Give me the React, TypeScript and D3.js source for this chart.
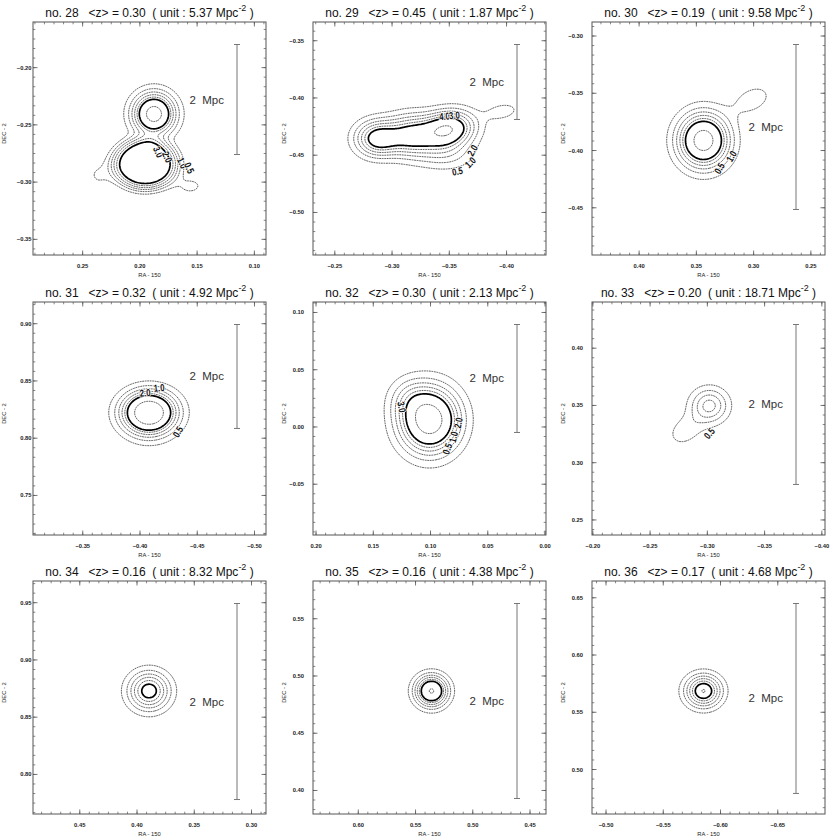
import React from 'react';
import * as d3 from 'd3';

const W = 830;
const H = 838;

// ---------- data ----------
const PANEL_NO = [28, 29, 30, 31, 32, 33, 34, 35, 36];
const MEAN_Z = ['0.30', '0.45', '0.19', '0.32', '0.30', '0.20', '0.16', '0.16', '0.17'];
const UNIT = ['5.37', '1.87', '9.58', '4.92', '2.13', '18.71', '8.32', '4.38', '4.68'];
const CENTER_RA = [0.1916, -0.3327, 0.3394, -0.4083, 0.1009, -0.301, 0.3891, 0.5378, -0.5895];
const CENTER_DEC = [-0.2619, -0.4354, -0.3895, 0.8172, 0.0074, 0.3386, 0.8672, 0.4812, 0.5629];
const HALF_SPAN = 0.10175;

const RA_TICKS = [
  [0.25, 0.2, 0.15, 0.1],
  [-0.25, -0.3, -0.35, -0.4],
  [0.4, 0.35, 0.3, 0.25],
  [-0.35, -0.4, -0.45, -0.5],
  [0.2, 0.15, 0.1, 0.05, 0.0],
  [-0.2, -0.25, -0.3, -0.35, -0.4],
  [0.45, 0.4, 0.35, 0.3],
  [0.6, 0.55, 0.5, 0.45],
  [-0.5, -0.55, -0.6, -0.65],
];
const DEC_TICKS = [
  [-0.2, -0.25, -0.3, -0.35],
  [-0.35, -0.4, -0.45, -0.5],
  [-0.3, -0.35, -0.4, -0.45],
  [0.9, 0.85, 0.8, 0.75],
  [0.1, 0.05, 0.0, -0.05],
  [0.4, 0.35, 0.3, 0.25],
  [0.95, 0.9, 0.85, 0.8],
  [0.55, 0.5, 0.45, 0.4],
  [0.65, 0.6, 0.55, 0.5],
];
const MINOR_PER_MAJOR = 6;

// 2 Mpc scale bar length in degrees
const SCALE_BAR_DEG = [0.0961, 0.0655, 0.1441, 0.0908, 0.0943, 0.1397, 0.1712, 0.1703, 0.1659];

// contour levels (surface density in the panel unit)
const THIN_LEVELS = [0.5, 1.0, 1.5, 2.0, 2.5, 4.5];
const THICK_LEVELS = [3.0];

// density components: ra, dec (deg), amp, sx, sy (deg), rot (deg), p (profile flatness)
const BLOBS_28 = [
  { ra: 0.1877, dec: -0.2405, amp: 5.2, sx: 0.0122, sy: 0.0122, rot: 0, p: 1 },
  { ra: 0.1955, dec: -0.2842, amp: 4.0, sx: 0.0247, sy: 0.0192, rot: 0, p: 2.26 },
  { ra: 0.2357, dec: -0.2938, amp: 0.55, sx: 0.0096, sy: 0.0096, rot: 0, p: 1 },
  { ra: 0.1562, dec: -0.3034, amp: 0.6, sx: 0.0113, sy: 0.007, rot: 0, p: 1 },
];
const BLOBS_29 = [
  { ra: -0.2873, dec: -0.4354, amp: 3.5, sx: 0.0131, sy: 0.0105, rot: 0, p: 1 },
  { ra: -0.3161, dec: -0.4328, amp: 3.0, sx: 0.014, sy: 0.0122, rot: 0, p: 1 },
  { ra: -0.3484, dec: -0.4275, amp: 4.5, sx: 0.0157, sy: 0.0105, rot: 10, p: 1 },
  { ra: -0.3467, dec: -0.4494, amp: 1.1, sx: 0.0175, sy: 0.0096, rot: 0, p: 1 },
  { ra: -0.3964, dec: -0.4118, amp: 0.8, sx: 0.0105, sy: 0.0052, rot: 10, p: 1 },
];
const BLOBS_30 = [
  { ra: 0.3438, dec: -0.3912, amp: 5.26, sx: 0.0148, sy: 0.0157, rot: 0, p: 1 },
  { ra: 0.301, dec: -0.3555, amp: 0.75, sx: 0.014, sy: 0.009, rot: 25, p: 1 },
];
const BLOBS_31 = [
  { ra: -0.4079, dec: 0.8229, amp: 5.9, sx: 0.0157, sy: 0.0122, rot: 0, p: 1 },
  { ra: -0.4075, dec: 0.8107, amp: 0.5, sx: 0.015, sy: 0.012, rot: 0, p: 1 },
];
const BLOBS_32 = [
  { ra: 0.1009, dec: 0.0061, amp: 5.44, sx: 0.0175, sy: 0.0192, rot: 0, p: 1 },
  { ra: 0.1192, dec: 0.0253, amp: 0.8, sx: 0.0122, sy: 0.0122, rot: 0, p: 1 },
];
const BLOBS_33 = [
  { ra: -0.3018, dec: 0.3499, amp: 2.2, sx: 0.0113, sy: 0.0105, rot: 0, p: 1 },
  { ra: -0.2808, dec: 0.3281, amp: 0.8, sx: 0.0122, sy: 0.0087, rot: 35, p: 1 },
];
const BLOBS_34 = [{ ra: 0.3895, dec: 0.8729, amp: 3.43, sx: 0.0123, sy: 0.0115, rot: 0, p: 1 }];
const BLOBS_35 = [{ ra: 0.5361, dec: 0.4869, amp: 4.6, sx: 0.0096, sy: 0.0092, rot: 0, p: 1 }];
const BLOBS_36 = [
  { ra: -0.5851, dec: 0.5686, amp: 3.75, sx: 0.0107, sy: 0.0096, rot: 0, p: 1 },
  { ra: -0.5851, dec: 0.5686, amp: 1.1, sx: 0.0017, sy: 0.0017, rot: 0, p: 1 },
];
const BLOBS = [BLOBS_28, BLOBS_29, BLOBS_30, BLOBS_31, BLOBS_32, BLOBS_33, BLOBS_34, BLOBS_35, BLOBS_36];

// contour labels: text, ra, dec, angle
const LABELS_28 = [
  { t: '3.0', ra: 0.1842, dec: -0.2737, a: 65 },
  { t: '2.0', ra: 0.1763, dec: -0.2781, a: 65 },
  { t: '1.0', ra: 0.1632, dec: -0.2833, a: 65 },
  { t: '0.5', ra: 0.1571, dec: -0.2877, a: 65 },
];
const LABELS_29 = [
  { t: '4.0', ra: -0.3458, dec: -0.4162, a: -5 },
  { t: '3.0', ra: -0.3545, dec: -0.4153, a: -5 },
  { t: '2.0', ra: -0.3702, dec: -0.4459, a: -60 },
  { t: '1.0', ra: -0.3685, dec: -0.4564, a: -45 },
  { t: '0.5', ra: -0.3571, dec: -0.4642, a: -10 },
];
const LABELS_30 = [
  { t: '0.5', ra: 0.3298, dec: -0.4157, a: -60 },
  { t: '1.0', ra: 0.3193, dec: -0.4052, a: -60 },
];
const LABELS_31 = [
  { t: '2.0', ra: -0.4044, dec: 0.8395, a: -5 },
  { t: '1.0', ra: -0.4166, dec: 0.8438, a: -5 },
  { t: '0.5', ra: -0.4332, dec: 0.8054, a: -60 },
];
const LABELS_32 = [
  { t: '3.0', ra: 0.1253, dec: 0.0174, a: 80 },
  { t: '0.5', ra: 0.0852, dec: -0.0192, a: -70 },
  { t: '1.0', ra: 0.0799, dec: -0.0088, a: -75 },
  { t: '2.0', ra: 0.0756, dec: 0.0035, a: -80 },
];
const LABELS_33 = [{ t: '0.5', ra: -0.3018, dec: 0.3255, a: -50 }];
const LABELS = [LABELS_28, LABELS_29, LABELS_30, LABELS_31, LABELS_32, LABELS_33, [], [], []];

// ---------- layout ----------
const FRAME_LEFT = [33, 313, 592];
const FRAME_TOP = [22, 302, 581];
const FRAME_SIZE = 233;
const GRID_N = 200;
const FONT = "'Liberation Sans', Arial, Helvetica, sans-serif";

const fmt = d3.format('.2f');

function Panel({ idx }: { idx: number }) {
  const col = idx % 3;
  const row = Math.floor(idx / 3);
  const x0 = FRAME_LEFT[col];
  const y0 = FRAME_TOP[row];
  const s = FRAME_SIZE;
  const ra0 = CENTER_RA[idx];
  const dec0 = CENTER_DEC[idx];
  const xScale = d3.scaleLinear().domain([ra0 + HALF_SPAN, ra0 - HALF_SPAN]).range([x0, x0 + s]);
  const yScale = d3.scaleLinear().domain([dec0 + HALF_SPAN, dec0 - HALF_SPAN]).range([y0, y0 + s]);
  const gridRa = d3.scaleLinear().domain([0, GRID_N]).range(xScale.domain());
  const gridDec = d3.scaleLinear().domain([0, GRID_N]).range(yScale.domain());

  const blobs = BLOBS[idx];
  const values: number[] = new Array(GRID_N * GRID_N);
  for (let j = 0; j < GRID_N; j++) {
    const dec = gridDec(j + 0.5);
    for (let i = 0; i < GRID_N; i++) {
      const ra = gridRa(i + 0.5);
      let v = 0;
      for (const b of blobs) {
        const dx = -(ra - b.ra);
        const dy = dec - b.dec;
        const t = (b.rot * Math.PI) / 180;
        const u = dx * Math.cos(t) + dy * Math.sin(t);
        const w = -dx * Math.sin(t) + dy * Math.cos(t);
        const q = (u / b.sx) ** 2 + (w / b.sy) ** 2;
        v += b.amp * Math.exp(-0.5 * Math.pow(q, b.p));
      }
      values[j * GRID_N + i] = v;
    }
  }
  const toPath = (mp: any) =>
    mp.coordinates
      .map((poly: any) =>
        poly
          .map(
            (ring: any) =>
              'M' +
              ring
                .map(([gx, gy]: number[]) => `${xScale(gridRa(gx)).toFixed(2)},${yScale(gridDec(gy)).toFixed(2)}`)
                .join('L') +
              'Z'
          )
          .join('')
      )
      .join('');
  const thin = d3.contours().size([GRID_N, GRID_N]).thresholds(THIN_LEVELS)(values);
  const thick = d3.contours().size([GRID_N, GRID_N]).thresholds(THICK_LEVELS)(values);

  // ticks
  const minorTicks = (dom: number[], majors: number[]) => {
    const lo = Math.min(dom[0], dom[1]);
    const hi = Math.max(dom[0], dom[1]);
    const st = Math.abs(majors[0] - majors[1]) / MINOR_PER_MAJOR;
    const out: number[] = [];
    for (let k = Math.ceil((lo - majors[0]) / st); majors[0] + k * st <= hi; k++) out.push(majors[0] + k * st);
    return out;
  };
  const xMinor = minorTicks(xScale.domain(), RA_TICKS[idx]);
  const yMinor = minorTicks(yScale.domain(), DEC_TICKS[idx]);
  const majorLen = 4.5;
  const minorLen = 2.3;
  const tickColor = '#555';

  const barX = x0 + s - 29;
  const barTop = y0 + 22.5;
  const barLen = yScale(dec0 - SCALE_BAR_DEG[idx]) - yScale(dec0);
  const barBottom = barTop + barLen;

  const yLabelX = col === 0 ? x0 - 1.5 : x0 - 9;
  const clipId = `clip-${idx}`;

  return (
    <g>
      <defs>
        <clipPath id={clipId}>
          <rect x={x0} y={y0} width={s} height={s} />
        </clipPath>
      </defs>
      <text
        x={x0 + s / 2}
        y={y0 - 5}
        textAnchor="middle"
        fontSize={12}
        fontFamily={FONT}
        fill="#111"
        style={{ whiteSpace: 'pre' }}
      >
        {`no. ${PANEL_NO[idx]}   <z> = ${MEAN_Z[idx]}  ( unit : ${UNIT[idx]} Mpc`}
        <tspan dy={-6} fontSize={9}>
          -2
        </tspan>
        <tspan dy={6}>{' )'}</tspan>
      </text>

      {/* contours */}
      <g clipPath={`url(#${clipId})`} fill="none">
        {thin.map((c: any, i: number) => (
          <path key={'t' + i} d={toPath(c)} stroke="#333" strokeWidth={0.8} strokeDasharray="1.8 0.7" />
        ))}
        {thick.map((c: any, i: number) => (
          <path key={'k' + i} d={toPath(c)} stroke="#000" strokeWidth={1.7} />
        ))}
      </g>
      {LABELS[idx].map((l, i) => (
        <text
          key={'l' + i}
          transform={`translate(${xScale(l.ra)},${yScale(l.dec)}) rotate(${l.a}) scale(0.78,1)`}
          textAnchor="middle"
          dominantBaseline="central"
          fontSize={10}
          fontWeight="bold"
          fontFamily={FONT}
          fill="#111"
          stroke="#fff"
          strokeWidth={1.6}
          style={{ paintOrder: 'stroke' }}
        >
          {l.t}
        </text>
      ))}

      {/* frame */}
      <rect x={x0} y={y0} width={s} height={s} fill="none" stroke="#555" strokeWidth={1} />
      {xMinor.map((v, i) => (
        <g key={'xm' + i} stroke={tickColor} strokeWidth={0.7}>
          <line x1={xScale(v)} x2={xScale(v)} y1={y0 + s} y2={y0 + s - minorLen} />
          <line x1={xScale(v)} x2={xScale(v)} y1={y0} y2={y0 + minorLen} />
        </g>
      ))}
      {yMinor.map((v, i) => (
        <g key={'ym' + i} stroke={tickColor} strokeWidth={0.7}>
          <line x1={x0} x2={x0 + minorLen} y1={yScale(v)} y2={yScale(v)} />
          <line x1={x0 + s} x2={x0 + s - minorLen} y1={yScale(v)} y2={yScale(v)} />
        </g>
      ))}
      {RA_TICKS[idx].map((v, i) => (
        <g key={'xt' + i}>
          <line x1={xScale(v)} x2={xScale(v)} y1={y0 + s} y2={y0 + s - majorLen} stroke={tickColor} strokeWidth={0.8} />
          <line x1={xScale(v)} x2={xScale(v)} y1={y0} y2={y0 + majorLen} stroke={tickColor} strokeWidth={0.8} />
          <text
            x={xScale(v)}
            y={y0 + s + 13}
            textAnchor="middle"
            fontSize={5.8}
            fontWeight="bold"
            fontFamily={FONT}
            fill="#222"
          >
            {fmt(v)}
          </text>
        </g>
      ))}
      {DEC_TICKS[idx].map((v, i) => (
        <g key={'yt' + i}>
          <line x1={x0} x2={x0 + majorLen} y1={yScale(v)} y2={yScale(v)} stroke={tickColor} strokeWidth={0.8} />
          <line x1={x0 + s} x2={x0 + s - majorLen} y1={yScale(v)} y2={yScale(v)} stroke={tickColor} strokeWidth={0.8} />
          <text
            x={yLabelX}
            y={yScale(v) + 2}
            textAnchor="end"
            fontSize={5.8}
            fontWeight="bold"
            fontFamily={FONT}
            fill="#222"
          >
            {fmt(v)}
          </text>
        </g>
      ))}
      <text x={x0 + s / 2} y={y0 + s + 22} textAnchor="middle" fontSize={5.8} fontFamily={FONT} fill="#222">
        RA - 150
      </text>
      <text
        transform={`translate(${x0 - 27},${y0 + s / 2 - 5}) rotate(-90)`}
        textAnchor="middle"
        fontSize={5.8}
        fontFamily={FONT}
        fill="#222"
      >
        DEC - 2
      </text>

      {/* scale bar */}
      <g stroke="#777" strokeWidth={1}>
        <line x1={barX} x2={barX} y1={barTop} y2={barBottom} />
        <line x1={barX - 3} x2={barX + 3} y1={barTop} y2={barTop} />
        <line x1={barX - 3} x2={barX + 3} y1={barBottom} y2={barBottom} />
      </g>
      <text
        x={barX - 13}
        y={(barTop + barBottom) / 2 + 4}
        textAnchor="end"
        fontSize={11.5}
        fontFamily={FONT}
        fill="#333"
        style={{ whiteSpace: 'pre' }}
      >
        {'2  Mpc'}
      </text>
    </g>
  );
}

export default function App() {
  return (
    <svg
      width={W}
      height={H}
      viewBox={`0 0 ${W} ${H}`}
      style={{ position: 'absolute', left: 0, top: 0, background: '#fff' }}
    >
      <rect x={0} y={0} width={W} height={H} fill="#fff" />
      {PANEL_NO.map((_, i) => (
        <Panel key={i} idx={i} />
      ))}
    </svg>
  );
}
